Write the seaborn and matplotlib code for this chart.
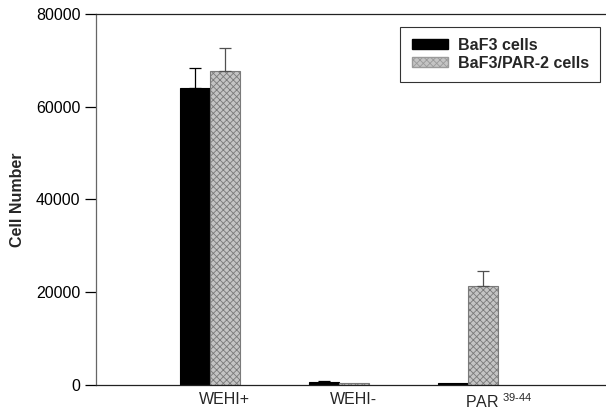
import matplotlib
matplotlib.use("Agg")
import matplotlib.pyplot as plt
import seaborn as sns
import pandas as pd
from matplotlib.patches import Patch

conditions = ["WEHI+", "WEHI-", "PAR"]
tick_labels = ["WEHI+", "WEHI-", "PAR $^{39\\text{-}44}$"]
series = ["BaF3 cells", "BaF3/PAR-2 cells"]
baf3_vals = [64000, 700, 500]
baf3_err = [4300, 150, 0]
par2_vals = [67800, 500, 21400]
par2_err = [4800, 0, 3100]

rows = []
for c, v in zip(conditions, baf3_vals):
    rows.append({"cond": c, "val": v, "cell": series[0]})
for c, v in zip(conditions, par2_vals):
    rows.append({"cond": c, "val": v, "cell": series[1]})
df = pd.DataFrame(rows)

sns.set_theme(style="white")
plt.rcParams["font.family"] = ["Liberation Sans", "DejaVu Sans"]
plt.rcParams["hatch.linewidth"] = 0.6
plt.rcParams["mathtext.fontset"] = "custom"
plt.rcParams["mathtext.rm"] = "Liberation Sans"

fig = plt.figure(figsize=(6.06, 4.13), dpi=100)
ax = fig.add_axes([0.158, 0.068, 0.842, 0.898])

gray = "#c4c4c4"
sns.barplot(data=df, x="cond", y="val", hue="cell", order=conditions,
            hue_order=series, palette=["black", gray], width=0.465,
            errorbar=None, ax=ax, legend=False, saturation=1)

cont_black, cont_gray = ax.containers[0], ax.containers[1]
for p in cont_black:
    p.set_edgecolor("black")
    p.set_linewidth(0.8)
for p in cont_gray:
    p.set_edgecolor("#7a7a7a")
    p.set_hatch("xxxxx")
    p.set_linewidth(0.8)

for cont, errs, col in [(cont_black, baf3_err, "black"), (cont_gray, par2_err, "#505050")]:
    for p, e in zip(cont, errs):
        if e <= 0:
            continue
        x = p.get_x() + p.get_width() / 2
        y = p.get_height()
        ax.errorbar([x], [y], yerr=[[0], [e]], fmt="none", ecolor=col,
                    elinewidth=0.9, capsize=4, capthick=0.9)

label_offsets = [0.115, 0.115, 0.24]
ax.set_ylim(0, 80000)
ax.set_xlim(-0.884, 3.07)
ax.set_yticks([0, 20000, 40000, 60000, 80000])
ax.set_yticklabels(["0", "20000", "40000", "60000", "80000"], fontsize=11.5)
ax.set_xticks([i + o for i, o in enumerate(label_offsets)])
ax.set_xticklabels(tick_labels, fontsize=11.5)
ax.tick_params(axis="x", length=0, pad=5)
ax.tick_params(axis="y", length=8, width=0.9, direction="out", left=True, pad=3, colors="black")
ax.set_xlabel("")
ax.set_ylabel("Cell Number", fontsize=11.5, fontweight="bold", labelpad=8)

for s in ["left", "bottom", "top"]:
    ax.spines[s].set_visible(True)
    ax.spines[s].set_color("#222222")
    ax.spines[s].set_linewidth(0.9)
ax.spines["right"].set_visible(False)
ax.spines["left"].set_color("#666666")

handles = [Patch(facecolor="black", edgecolor="black", label=series[0]),
           Patch(facecolor=gray, edgecolor="#9a9a9a", hatch="xxxxx", label=series[1])]
leg = ax.legend(handles=handles, loc="upper right", bbox_to_anchor=(0.995, 0.975),
                frameon=True, fancybox=False, edgecolor="black",
                prop={"weight": "bold", "size": 11.5}, handlelength=2.3,
                handleheight=0.55, borderpad=0.7, labelspacing=0.2, handletextpad=0.6,
                borderaxespad=0.2)
leg.get_frame().set_linewidth(0.8)

fig.savefig("out.png", dpi=100)
